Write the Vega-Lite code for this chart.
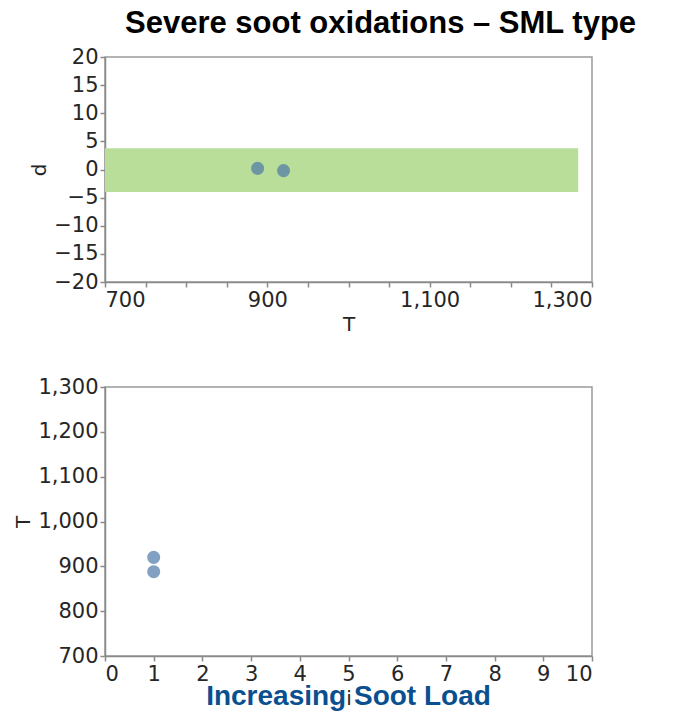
{
  "$schema": "https://vega.github.io/schema/vega-lite/v6.json",
  "padding": {"left": 13, "top": 7, "right": 5, "bottom": 0},
  "spacing": 40,
  "config": {
    "view": {"stroke": "#9a9a9a", "strokeWidth": 1.5},
    "axis": {
      "labelFont": "DejaVu Sans", "labelFontSize": 21, "labelColor": "#262626",
      "titleFont": "DejaVu Sans", "titleFontSize": 20, "titleFontWeight": "normal", "titleColor": "#262626",
      "domainColor": "#8a8a8a", "tickColor": "#8a8a8a", "domainWidth": 1.5, "tickWidth": 1.5, "grid": false
    }
  },
  "datasets": {
    "pts": [
      {"s": "GPF A (4.05\"x5.47\")", "i": 1, "T": 920, "d": -0.2},
      {"s": "GPF B (4.05\"x5.47\")", "i": 1, "T": 888, "d": 0.2}
    ]
  },
  "vconcat": [
    {
      "width": 487,
      "height": 225,
      "title": {"text": "Severe soot oxidations – SML type", "font": "Liberation Sans", "fontSize": 31, "fontWeight": "bold", "anchor": "start", "frame": "group", "dx": 20, "offset": 6},
      "layer": [
        {
          "data": {"values": [{}]},
          "mark": {"type": "rect", "color": "#B9DE9A"},
          "encoding": {
            "x": {"datum": 700, "type": "quantitative"},
            "x2": {"datum": 1283},
            "y": {"datum": -4, "type": "quantitative"},
            "y2": {"datum": 3.8}
          }
        },
        {
          "data": {"name": "pts"},
          "mark": {"type": "point", "filled": true, "size": 170},
          "encoding": {
            "x": {"field": "T", "type": "quantitative", "scale": {"domain": [700, 1300], "nice": false, "zero": false}},
            "y": {"field": "d", "type": "quantitative", "scale": {"domain": [-20, 20], "nice": false}}
          }
        }
      ]
    },
    {
      "width": 487,
      "height": 269,
      "layer": [
        {
          "data": {"name": "pts"},
          "mark": {"type": "point", "filled": true, "size": 170},
          "encoding": {
            "x": {"field": "i", "type": "quantitative", "scale": {"domain": [0, 10], "nice": false}},
            "y": {"field": "T", "type": "quantitative", "scale": {"domain": [700, 1300], "nice": false, "zero": false}}
          }
        },
        {
          "data": {"values": [{}]},
          "mark": {"type": "text", "text": "Increasing Soot Load", "fontSize": 28, "fontWeight": "bold", "color": "#0A4F90", "clip": false},
          "encoding": {
            "x": {"datum": 5, "type": "quantitative"},
            "y": {"datum": 607.7, "type": "quantitative"}
          }
        }
      ]
    }
  ]
}
